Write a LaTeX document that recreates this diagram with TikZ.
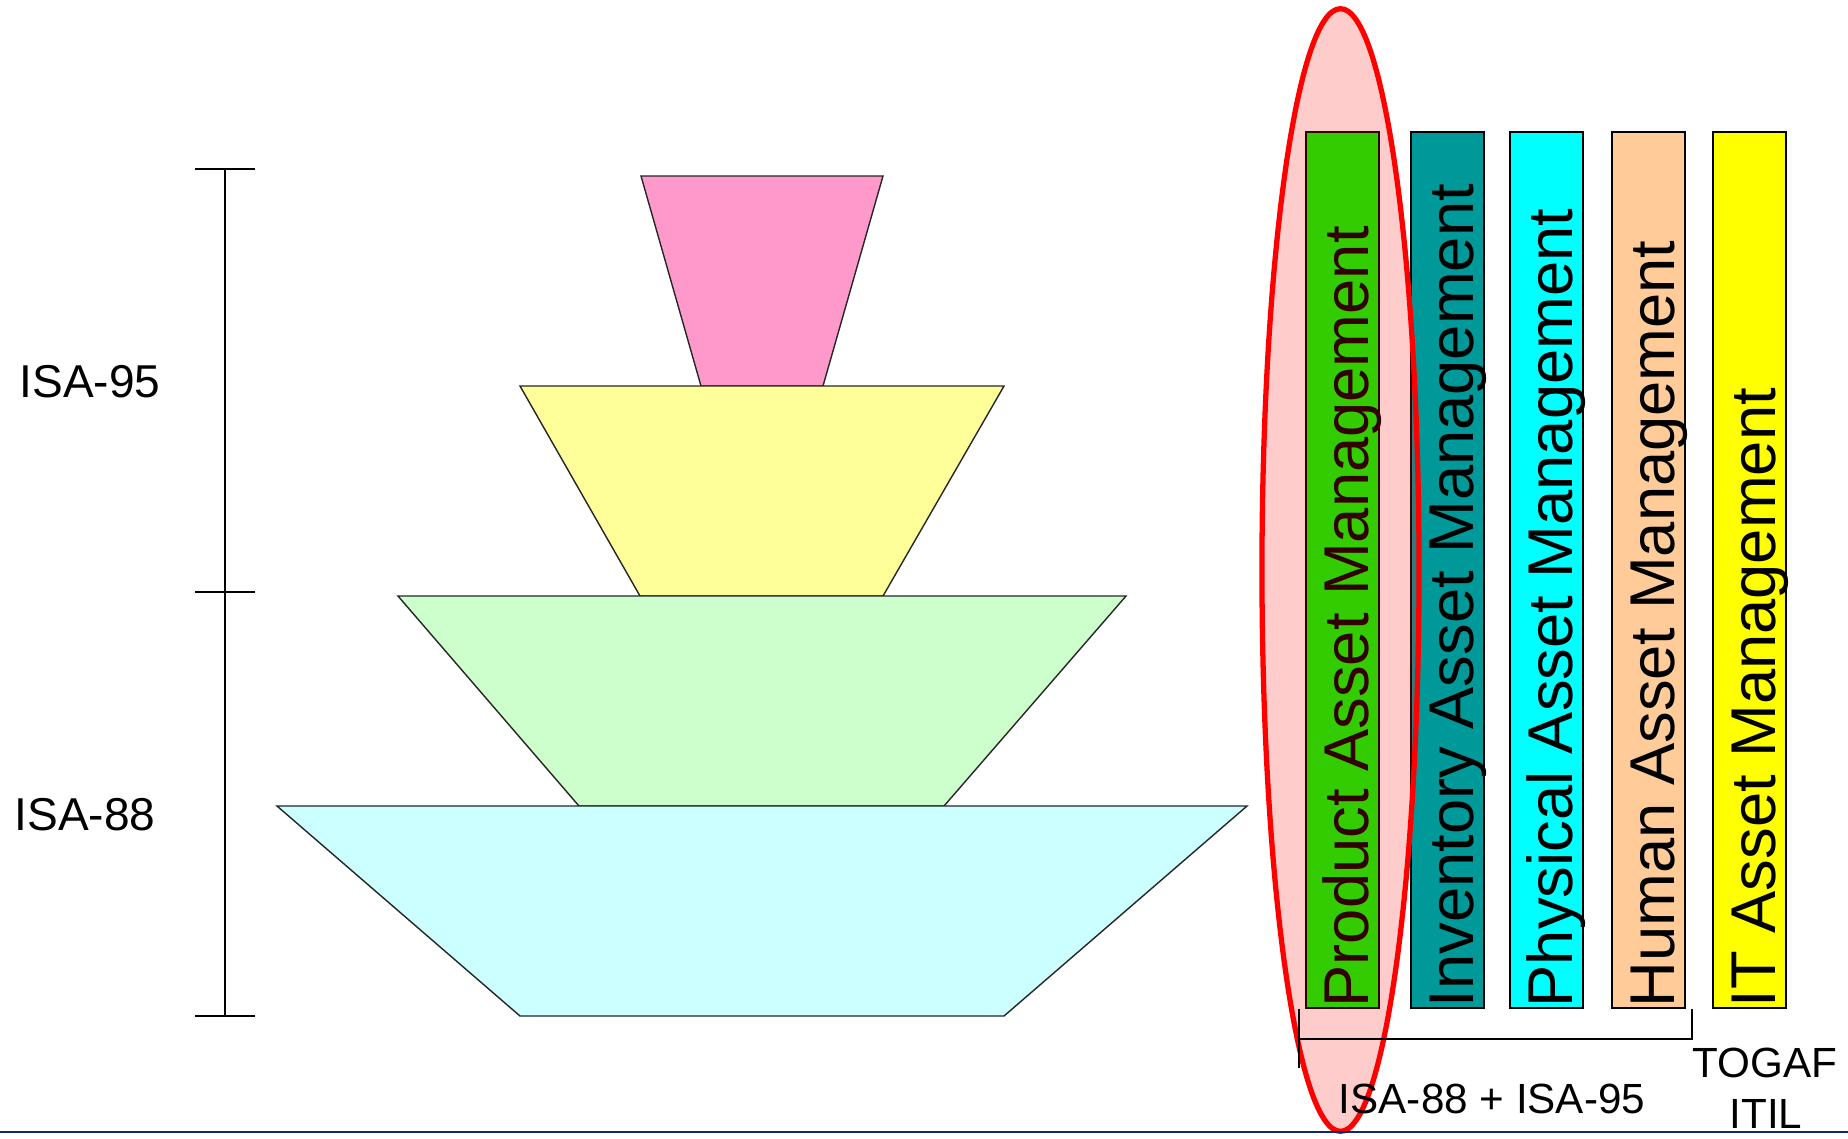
\documentclass[tikz,border=0pt]{standalone}
\usepackage{fontspec}
\setmainfont{Liberation Sans}

\definecolor{layerpink}{HTML}{FF99CC}
\definecolor{layeryellow}{HTML}{FFFF99}
\definecolor{layergreen}{HTML}{CCFFCC}
\definecolor{layercyan}{HTML}{CCFFFF}
\definecolor{barlime}{HTML}{00FF00}
\definecolor{barteal}{HTML}{009999}
\definecolor{barcyan}{HTML}{00FFFF}
\definecolor{barpeach}{HTML}{FFCC99}
\definecolor{baryellow}{HTML}{FFFF00}
\definecolor{rulenavy}{HTML}{0F2A6C}

\tikzset{
  layer/.style={draw=black!85, line width=0.4pt},
  bar/.style={draw=black, line width=0.6pt},
  bartext/.style={inner sep=0pt, font=\fontsize{18}{21}\selectfont},
  sidelabel/.style={inner sep=0pt, font=\fontsize{13.1}{16}\selectfont},
  footlabel/.style={inner sep=0pt, font=\fontsize{12}{14.5}\selectfont}
}

\begin{document}
\begin{tikzpicture}[x=0.01cm, y=-0.01cm]
    \useasboundingbox (0,0) rectangle (1848,1138);

    % Stack of layers, top to bottom
    \draw[layer, fill=layerpink]   (641,176) -- (883,176) -- (823,386) -- (701,386) -- cycle;
    \draw[layer, fill=layeryellow] (520,386) -- (1004,386) -- (883,596) -- (640,596) -- cycle;
    \draw[layer, fill=layergreen]  (398,596) -- (1126,596) -- (944,806) -- (579,806) -- cycle;
    \draw[layer, fill=layercyan]   (277,806) -- (1247,806) -- (1004,1016) -- (520,1016) -- cycle;

    % Scale bar at the left
    \coordinate (S1) at (225,169);
    \coordinate (S2) at (225,592);
    \coordinate (S3) at (225,1016);
    \draw[line width=0.5pt] (S1) -- (S3);
    \foreach \s in {S1,S2,S3}
        \draw[line width=0.5pt] ([xshift=-0.3cm]\s) -- ([xshift=0.3cm]\s);

    \node[sidelabel, anchor=base] (isa95) at (90,397) {ISA-95};
    \node[sidelabel, anchor=base] (isa88) at (85,830) {ISA-88};

    % Asset management columns
    \foreach \x/\col/\txt [count=\i] in {1306/barlime/Product Asset Management,
        1411/barteal/Inventory Asset Management,
        1510/barcyan/Physical Asset Management,
        1612/barpeach/Human Asset Management,
        1713/baryellow/IT Asset Management} {
        \draw[bar, fill=\col] (\x,132) rectangle ++(73,876);
        \node[bartext, rotate=90, anchor=base west] (col\i) at (\x+62,1008) {\txt};
    }

    % Highlight round the first column
    \draw[red, line width=1.5pt, fill=red, fill opacity=0.2]
        (1340.5,570) ellipse [x radius=0.785cm, y radius=5.61cm];

    % Bracket under the columns
    \coordinate (BL) at (1299,1009);
    \coordinate (BR) at (1692,1009);
    \draw[line width=0.5pt] (BL) -- (1299,1068);
    \draw[line width=0.5pt] (1299,1039) -- (1692,1039) -- (BR);

    \node[footlabel, anchor=base] (isaboth) at (1492,1113) {ISA-88 + ISA-95};
    \node[footlabel, anchor=base] (togaf) at (1765,1077) {TOGAF};
    \node[footlabel, anchor=base] (itil) at (1766,1128) {ITIL};

    % Rule along the bottom
    \draw[rulenavy, line width=0.7pt] (0,1132) -- (1848,1132);

\end{tikzpicture}
\end{document}
